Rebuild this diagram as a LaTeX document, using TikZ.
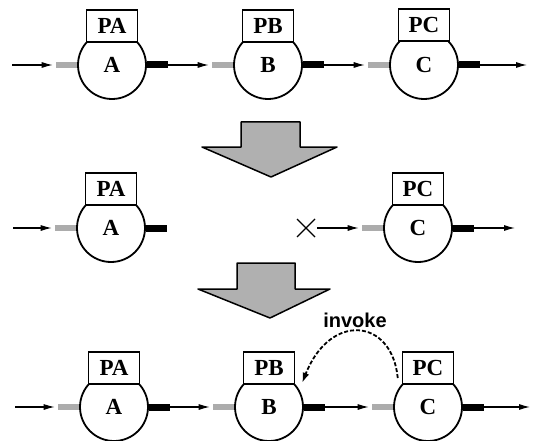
\documentclass[tikz,border=0pt]{standalone}
\usepackage{fontspec}
\setmainfont{Liberation Serif}
\newfontfamily\invfont{Liberation Sans}
\usetikzlibrary{arrows.meta,calc}
\tikzset{
 proc/.style={circle, draw, line width=1.8pt, minimum size=68pt, inner sep=0pt, font=\bfseries\fontsize{23}{23}\selectfont},
 pbox/.style={rectangle, draw, fill=white, line width=1.5pt, minimum width=51pt, minimum height=32pt, inner sep=0pt, font=\bfseries\fontsize{23}{23}\selectfont},
 hatchstub/.style={rectangle, fill=gray!65, minimum width=21pt, minimum height=6pt, inner sep=0pt},
 blackstub/.style={rectangle, fill=black, minimum width=21pt, minimum height=7pt, inner sep=0pt},
 flow/.style={line width=1.1pt, -{Latex[length=11pt,width=6pt]}, shorten >=3pt},
 bigarrow/.style={draw, line width=1.5pt, fill=gray!62, line join=round},
 invokeline/.style={line width=1.8pt, dash pattern=on 4pt off 2pt, -{Latex[length=10pt,width=7pt]}},
}
\begin{document}
\begin{tikzpicture}[x=1pt,y=-1pt]
\useasboundingbox (0,0) rectangle (535,441);
% ---------- row 1 ----------
\node[proc] (A1) at (112,65) {A};
\node[proc] (B1) at (268,65) {B};
\node[proc] (C1) at (424,65) {C};
\node[pbox] (PA1) at ($(A1)+(0,-39)$) {PA};
\node[pbox] (PB1) at ($(B1)+(0,-39)$) {PB};
\node[pbox] (PC1) at ($(C1)+(0,-40)$) {PC};
\foreach \n in {A1,B1,C1}{
  \node[hatchstub, anchor=east] (\n in) at (\n.west) {};
  \node[blackstub, anchor=west] (\n out) at (\n.east) {};
}
\coordinate (s1) at (12,65);
\coordinate (e1) at (527,65);
\draw[flow] (s1) -- (A1in.west);
\draw[flow] (A1out.east) -- (B1in.west);
\draw[flow] (B1out.east) -- (C1in.west);
\draw[flow, shorten >=0pt] (C1out.east) -- (e1);
% ---------- big arrow 1 ----------
\draw[bigarrow] (241,122) -- (300,122) -- (300,147) -- (337,147) -- (271,177) -- (202,147) -- (241,147) -- cycle;
% ---------- row 2 ----------
\node[proc] (A2) at (111,228) {A};
\node[proc] (C2) at (418,228) {C};
\node[pbox] (PA2) at ($(A2)+(0,-39)$) {PA};
\node[pbox] (PC2) at ($(C2)+(0,-39)$) {PC};
\node[hatchstub, anchor=east] (A2in) at (A2.west) {};
\node[blackstub, anchor=west] (A2out) at (A2.east) {};
\node[hatchstub, anchor=east] (C2in) at (C2.west) {};
\node[blackstub, anchor=west] (C2out) at (C2.east) {};
\coordinate (s2) at (13,228);
\coordinate (x2) at (306,228);
\coordinate (e2) at (515,228);
\draw[line width=1.2pt] ($(x2)+(-9,-9)$) -- ($(x2)+(9,9)$);
\draw[line width=1.2pt] ($(x2)+(-9,9)$) -- ($(x2)+(9,-9)$);
\draw[flow] (s2) -- (A2in.west);
\draw[flow] ($(x2)+(11,0)$) -- (C2in.west);
\draw[flow, shorten >=0pt] (C2out.east) -- (e2);
% ---------- big arrow 2 ----------
\draw[bigarrow] (237,263) -- (295,263) -- (295,289) -- (330,289) -- (270,318) -- (198,289) -- (237,289) -- cycle;
% ---------- row 3 ----------
\node[proc] (A3) at (114,407) {A};
\node[proc] (B3) at (269,407) {B};
\node[proc] (C3) at (428,407) {C};
\node[pbox] (PA3) at ($(A3)+(0,-39)$) {PA};
\node[pbox] (PB3) at ($(B3)+(0,-39)$) {PB};
\node[pbox] (PC3) at ($(C3)+(0,-39)$) {PC};
\foreach \n in {A3,B3,C3}{
  \node[hatchstub, anchor=east] (\n in) at (\n.west) {};
  \node[blackstub, anchor=west] (\n out) at (\n.east) {};
}
\coordinate (s3) at (15,407);
\coordinate (e3) at (530,407);
\draw[flow] (s3) -- (A3in.west);
\draw[flow] (A3out.east) -- (B3in.west);
\draw[flow] (B3out.east) -- (C3in.west);
\draw[flow, shorten >=0pt] (C3out.east) -- (e3);
% ---------- invoke ----------
\node[font=\invfont\bfseries\fontsize{20}{20}\selectfont] (inv) at (355,320) {invoke};
\coordinate (invs) at ($(PC3.west)+(-4,10)$);
\coordinate (inve) at ($(PB3.south east)+(7,-2)$);
\draw[invokeline] (invs) .. controls (392,318) and (330,312) .. (inve);
\end{tikzpicture}
\end{document}
